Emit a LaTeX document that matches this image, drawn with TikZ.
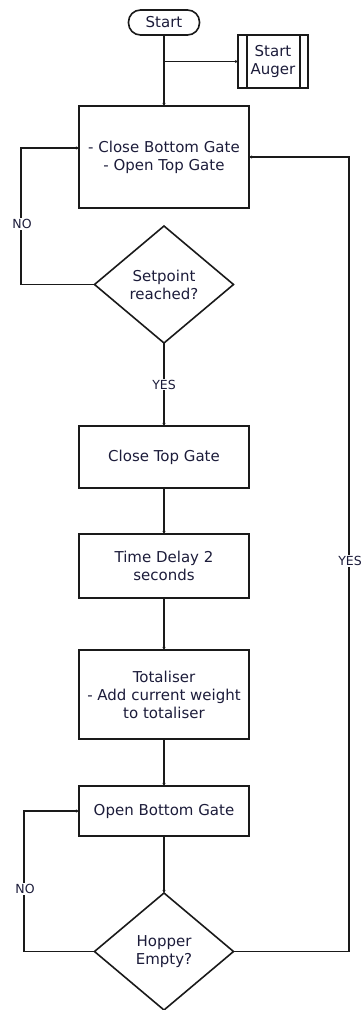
\documentclass[tikz,border=0pt]{standalone}
\usepackage{fontspec}
\setmainfont{DejaVu Sans}
\usepackage{xcolor}
\definecolor{cLine}{HTML}{1A1A1A}
\definecolor{cText}{HTML}{1C1C3A}
\usepackage{tikz}
\usetikzlibrary{positioning,arrows.meta,shapes.geometric,calc}
\tikzset{
  node-box/.style={draw=cLine,line width=1.6pt,minimum width=170pt,outer sep=0pt,
    align=center,text=cText,font=\fontsize{15}{18}\selectfont,inner sep=2pt},
  node-start/.style={draw=cLine,line width=1.6pt,rounded corners=12pt,outer sep=0pt,
    minimum width=71pt,minimum height=25pt,text=cText,
    font=\fontsize{15}{18}\selectfont,inner sep=0pt},
  node-sub/.style={draw=cLine,line width=1.6pt,minimum width=70pt,outer sep=0pt,
    minimum height=53pt,align=center,text=cText,inner sep=0pt,
    font=\fontsize{15}{18}\selectfont,
    path picture={
      \draw[line width=1.6pt] ([xshift=9pt]path picture bounding box.north west)
        -- ([xshift=9pt]path picture bounding box.south west);
      \draw[line width=1.6pt] ([xshift=-8pt]path picture bounding box.north east)
        -- ([xshift=-8pt]path picture bounding box.south east);
    }},
  node-dec/.style={draw=cLine,line width=1.6pt,diamond,minimum width=139pt,
    minimum height=117pt,inner sep=0pt,outer sep=0pt,align=center,text=cText,
    font=\fontsize{15}{18}\selectfont},
  node-lbl/.style={fill=white,text=cText,inner sep=1pt,
    font=\fontsize{12.5}{14}\selectfont},
  arrow/.style={-{Stealth[length=3pt,width=3pt]},line width=1.6pt,draw=cLine},
}

\begin{document}
\begin{tikzpicture}[x=1pt,y=-1pt]
  \useasboundingbox (0,0) rectangle (362,1010);
  \node[node-start]                                   (start) at (164,22.5) {Start};
  \node[node-sub]                                     (sa)    at (273,61.5) {Start\\Auger};
  \node[node-box,minimum height=102pt,below=71pt of start] (b1) {- Close Bottom Gate\\- Open Top Gate};
  \node[node-dec,below=18pt of b1]                   (d1)    {Setpoint\\reached?};
  \node[node-box,minimum height=62pt,below=83pt of d1]    (b2)  {Close Top Gate};
  \node[node-box,minimum height=64pt,below=46pt of b2]    (b3)  {Time Delay 2\\seconds};
  \node[node-box,minimum height=89pt,below=52pt of b3]    (b4)  {Totaliser\\- Add current weight\\to totaliser};
  \node[node-box,minimum height=50pt,below=47pt of b4]    (b5)  {Open Bottom Gate};
  \node[node-dec,below=57pt of b5]                   (d2)    {Hopper\\Empty?};
  % loop corners
  \coordinate (noA) at (21,148);
  \coordinate (noB) at (24,811);
  \coordinate (yesR) at (349,157);

  \draw[arrow] (start) -- (b1);
  \draw[arrow] (start |- sa.west) -- (sa.west);
  \draw[arrow] (d1.west) -| (noA) -- (noA -| b1.west);
  \draw[arrow] (d1) -- node[node-lbl] (yes1) {YES} (b2);
  \draw[arrow] (b2) -- (b3);
  \draw[arrow] (b3) -- (b4);
  \draw[arrow] (b4) -- (b5);
  \draw[arrow] (b5) -- (d2);
  \draw[arrow] (d2.west) -| (noB) -- (noB -| b5.west);
  \draw[arrow] (d2.east) -| (yesR) -- (yesR -| b1.east);
  \node[node-lbl] (no1)  at (22,224)  {NO};
  \node[node-lbl] (no2)  at (25,889)  {NO};
  \node[node-lbl] (yes2) at (350,561) {YES};
\end{tikzpicture}
\end{document}
